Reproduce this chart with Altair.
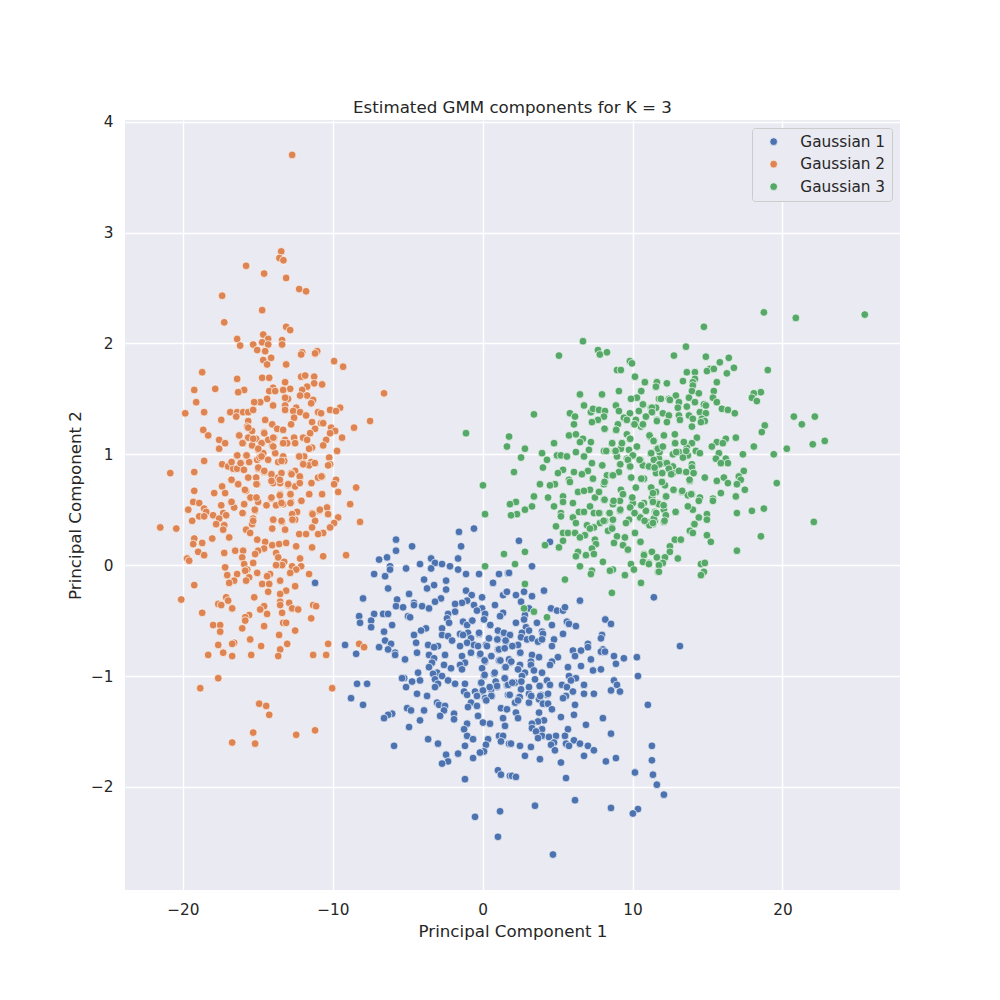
import altair as alt
import pandas as pd

gaussian_1 = [(-11.18,-0.16),(-1.58,0.30),(-0.58,0.33),(-5.78,0.23),(-5.78,0.13),(-4.71,0.17),(-1.44,0.17),(-6.38,0.07),(-6.91,0.05),(-3.44,0.06),(-1.64,0.06),(-6.18,-0.01),(-6.18,-0.04),(-4.18,0.01),(-3.18,0.02),(-2.71,0.01),(-2.18,-0.01),(-5.11,-0.03),(-3.44,-0.03),(-1.64,-0.04),(-1.11,-0.08),(-0.24,-0.08),(-7.24,-0.08),(-6.51,-0.10),(1.09,-0.08),(1.69,-0.07),(-3.91,-0.13),(-2.44,-0.14),(0.69,-0.16),(-6.31,-0.21),(-3.24,-0.18),(-3.71,-0.21),(-2.44,-0.22),(-4.91,-0.26),(-1.11,-0.23),(-0.73,-0.27),(1.36,-0.27),(1.58,-0.24),(-7.98,-0.30),(-5.71,-0.31),(-2.78,-0.30),(-0.04,-0.29),(-3.18,-0.33),(-1.04,-0.32),(-1.38,-0.34),(-1.84,-0.35),(-4.58,-0.34),(-4.58,-0.36),(-5.78,-0.37),(-5.31,-0.38),(-4.04,-0.37),(-3.58,-0.39),(-0.58,-0.36),(0.82,-0.36),(-0.04,-0.39),(-1.84,-0.42),(-0.38,-0.41),(-2.31,-0.44),(0.16,-0.44),(1.36,-0.43),(1.16,-0.46),(-7.24,-0.44),(-6.64,-0.44),(-6.31,-0.44),(-8.24,-0.46),(-4.98,-0.46),(-4.84,-0.47),(-7.44,-0.50),(-8.18,-0.52),(0.09,-0.49),(-0.71,-0.50),(-1.31,-0.51),(-2.38,-0.48),(-2.24,-0.52),(-6.04,-0.54),(-1.04,-0.54),(0.49,-0.54),(-7.44,-0.56),(-3.78,-0.57),(-4.11,-0.59),(-2.71,-0.57),(-6.58,-0.60),(-4.58,-0.63),(1.02,-0.59),(-0.24,-0.62),(-1.51,-0.62),(-2.71,-0.63),(-2.31,-0.64),(-0.98,-0.61),(1.42,-0.62),(0.42,-0.66),(-0.78,-0.66),(-1.31,-0.63),(1.02,-0.67),(-2.04,-0.68),(-6.51,-0.68),(-4.44,-0.70),(1.58,-0.69),(-6.11,-0.71),(-3.64,-0.72),(-2.98,-0.73),(-3.24,-0.74),(-9.18,-0.72),(-1.04,-0.70),(-0.58,-0.72),(0.22,-0.72),(-1.51,-0.73),(1.02,-0.76),(-6.91,-0.74),(-6.31,-0.76),(-8.44,-0.80),(-5.84,-0.79),(-5.84,-0.81),(-4.38,-0.79),(-0.78,-0.79),(-0.18,-0.81),(-3.58,-0.81),(-2.51,-0.81),(0.56,-0.82),(1.09,-0.86),(-3.24,-0.84),(-1.38,-0.82),(-5.18,-0.85),(-1.18,-0.88),(-3.38,-0.88),(0.16,-0.87),(-2.58,-0.90),(-1.51,-0.90),(1.49,-0.92),(-3.58,-0.92),(-2.11,-0.93),(-1.38,-0.94),(-0.04,-0.93),(-4.31,-0.97),(-3.04,-0.97),(-3.31,-0.98),(0.76,-0.98),(0.09,-1.00),(-2.71,-1.00),(-5.24,-1.02),(-5.38,-1.02),(-3.18,-1.03),(-4.18,-1.04),(-4.71,-1.05),(-2.31,-1.04),(-1.84,-1.07),(-1.18,-1.07),(-0.11,-1.06),(1.49,-1.02),(1.62,-1.08),(-8.38,-1.07),(-7.71,-1.07),(-2.98,-1.07),(-5.11,-1.10),(-3.18,-1.10),(0.96,-1.10),(-1.24,-1.14),(-0.51,-1.14),(-0.04,-1.14),(-4.38,-1.16),(0.56,-1.12),(-3.71,-1.18),(-1.04,-1.17),(-0.38,-1.18),(0.62,-1.18),(1.69,-1.17),(-8.78,-1.20),(0.16,-1.20),(-3.04,-1.24),(-0.78,-1.24),(-7.98,-1.26),(-2.91,-1.26),(-2.51,-1.27),(-5.04,-1.29),(-4.78,-1.31),(-3.91,-1.31),(-2.58,-1.31),(-0.98,-1.28),(-0.38,-1.27),(1.22,-1.29),(1.62,-1.30),(-6.04,-1.34),(-6.31,-1.35),(-1.91,-1.34),(-2.84,-1.36),(-0.31,-1.36),(-6.58,-1.38),(-4.18,-1.40),(-1.91,-1.39),(1.36,-1.38),(-1.04,-1.43),(0.02,-1.42),(0.49,-1.43),(1.49,-1.45),(-4.91,-1.46),(-1.24,-1.48),(1.09,-1.54),(1.36,-1.54),(-1.04,-1.54),(-3.64,-1.57),(-0.64,-1.57),(0.36,-1.57),(1.22,-1.59),(-2.98,-1.61),(0.22,-1.62),(-5.91,-1.63),(-1.18,-1.63),(1.76,-1.61),(0.09,-1.68),(-0.18,-1.69),(-1.64,-1.70),(-2.44,-1.71),(-0.64,-1.74),(-2.31,-1.77),(-2.71,-1.79),(1.02,-1.85),(1.22,-1.89),(1.82,-1.90),(-1.18,-1.93),(1.16,-2.22),(-0.51,-2.27),(1.02,-2.45),
(2.42,0.22),(4.49,0.21),(3.29,-0.01),(1.76,-0.07),(2.76,-0.24),(4.09,-0.23),(2.22,-0.27),(3.29,-0.28),(1.62,-0.24),(6.49,-0.32),(11.42,-0.29),(2.56,-0.33),(3.09,-0.39),(4.56,-0.39),(4.96,-0.41),(5.36,-0.41),(5.49,-0.38),(2.82,-0.45),(8.18,-0.49),(8.56,-0.53),(5.62,-0.51),(5.76,-0.53),(2.76,-0.49),(2.22,-0.52),(3.62,-0.52),(4.62,-0.54),(6.22,-0.55),(2.89,-0.56),(3.09,-0.59),(2.62,-0.61),(3.96,-0.60),(4.02,-0.62),(5.36,-0.62),(7.96,-0.63),(7.89,-0.66),(1.42,-0.62),(1.82,-0.63),(2.56,-0.65),(2.96,-0.67),(3.29,-0.66),(3.69,-0.69),(3.96,-0.67),(4.76,-0.67),(1.56,-0.69),(7.02,-0.71),(13.16,-0.73),(4.62,-0.73),(1.96,-0.73),(7.02,-0.74),(2.36,-0.72),(6.02,-0.77),(6.56,-0.77),(8.02,-0.76),(7.89,-0.78),(8.16,-0.78),(2.49,-0.79),(3.29,-0.81),(6.16,-0.82),(8.76,-0.82),(9.42,-0.84),(10.29,-0.83),(3.76,-0.83),(5.02,-0.83),(7.22,-0.85),(4.62,-0.87),(3.22,-0.87),(4.49,-0.90),(8.89,-0.89),(1.82,-0.88),(2.49,-0.90),(3.22,-0.90),(5.69,-0.92),(6.56,-0.91),(7.36,-0.95),(7.89,-0.94),(2.36,-0.94),(3.42,-0.95),(3.96,-0.97),(2.82,-0.97),(5.76,-1.00),(2.62,-1.00),(6.22,-1.02),(10.36,-1.00),(5.89,-1.04),(3.49,-1.03),(4.29,-1.04),(2.56,-1.05),(8.76,-1.04),(2.16,-1.06),(1.69,-1.08),(4.49,-1.08),(3.82,-1.09),(5.29,-1.08),(6.76,-1.08),(8.96,-1.08),(3.09,-1.10),(5.62,-1.10),(2.56,-1.12),(8.56,-1.13),(9.16,-1.14),(6.02,-1.14),(6.76,-1.16),(7.42,-1.16),(3.09,-1.16),(4.29,-1.17),(3.89,-1.17),(1.82,-1.17),(2.42,-1.19),(5.56,-1.18),(5.36,-1.20),(3.76,-1.21),(2.16,-1.24),(3.09,-1.24),(4.02,-1.25),(4.36,-1.25),(6.16,-1.26),(11.02,-1.26),(1.62,-1.30),(4.62,-1.30),(6.09,-1.35),(2.22,-1.33),(3.76,-1.33),(5.22,-1.37),(8.02,-1.38),(2.36,-1.38),(4.09,-1.40),(3.69,-1.41),(3.29,-1.43),(6.89,-1.44),(3.29,-1.47),(3.96,-1.48),(5.69,-1.48),(3.56,-1.50),(8.56,-1.52),(4.89,-1.54),(5.49,-1.54),(3.96,-1.54),(4.42,-1.55),(3.69,-1.56),(6.09,-1.58),(4.76,-1.60),(5.56,-1.61),(1.89,-1.61),(6.49,-1.61),(4.56,-1.62),(7.02,-1.63),(11.29,-1.63),(2.49,-1.63),(5.76,-1.63),(3.22,-1.64),(4.82,-1.67),(7.42,-1.67),(2.82,-1.72),(6.76,-1.72),(3.82,-1.75),(8.89,-1.74),(11.29,-1.76),(5.22,-1.78),(8.22,-1.77),(10.16,-1.87),(11.36,-1.89),(5.56,-1.92),(1.96,-1.90),(2.22,-1.91),(11.62,-1.98),(12.09,-2.07),(6.16,-2.12),(3.49,-2.17),(8.56,-2.19),(10.36,-2.20),(10.02,-2.24),(4.69,-2.61),
(-0.69,-0.50),(0.51,-0.54),(-0.24,-0.61),(1.02,-0.59),(1.42,-0.61),(1.82,-0.63),(0.42,-0.66),(0.98,-0.67),(1.53,-0.68),(1.98,-0.73),(0.29,-0.73),(-0.31,-0.73),(1.09,-0.76),(1.47,-0.75),(2.51,-0.79),(-0.16,-0.80),(0.58,-0.82),(1.18,-0.86),(1.76,-0.85),(1.91,-0.87),(0.13,-0.86),(1.53,-0.92),(2.36,-0.94),(0.80,-0.97),(0.13,-0.99),(1.47,-1.02),(0.87,-1.05),(-0.09,-1.06),(2.58,-1.05),(1.98,-1.06),(0.47,-1.10),(0.96,-1.09),(0.02,-1.13),(3.09,-1.10),(2.47,-1.19),(1.80,-1.17),(0.58,-1.18),(-0.38,-1.18),(3.84,-1.18),(3.24,-1.18),(0.24,-1.22),(2.36,-1.22),(4.36,-1.16),(3.80,-1.09)]

gaussian_2 = [(-12.71,3.70),(-13.44,2.83),(-13.56,2.77),(-13.29,2.75),(-15.78,2.70),(-14.58,2.63),(-13.11,2.59),(-12.24,2.49),(-11.78,2.47),(-17.38,2.43),(-14.71,2.30),(-17.24,2.19),(-13.11,2.15),(-12.84,2.12),(-14.64,2.08),(-14.31,2.04),(-16.38,2.04),(-13.38,2.03),(-13.38,1.99),(-14.71,2.01),(-16.18,1.98),(-15.31,1.99),(-14.31,1.99),(-15.04,1.94),(-14.51,1.93),(-12.04,1.92),(-12.11,1.90),(-11.04,1.93),(-11.18,1.91),(-9.91,1.84),(-9.31,1.79),(-14.64,1.85),(-14.11,1.87),(-14.38,1.81),(-13.11,1.81),(-18.71,1.74),(-16.38,1.68),(-14.71,1.69),(-14.24,1.69),(-12.11,1.70),(-11.84,1.71),(-11.24,1.70),(-11.24,1.64),(-10.71,1.63),(-13.18,1.65),(-11.71,1.61),(-13.98,1.60),(-12.84,1.59),(-13.31,1.58),(-14.24,1.57),(-13.84,1.57),(-12.04,1.58),(-19.24,1.58),(-17.84,1.59),(-15.91,1.58),(-16.31,1.56),(-6.58,1.55),(-19.11,1.47),(-11.71,1.53),(-12.18,1.53),(-12.98,1.50),(-13.18,1.51),(-14.38,1.50),(-14.84,1.47),(-15.24,1.47),(-11.31,1.49),(-11.44,1.46),(-13.98,1.44),(-13.18,1.44),(-19.84,1.37),(-18.58,1.38),(-16.84,1.38),(-16.38,1.38),(-15.98,1.38),(-15.64,1.38),(-15.31,1.40),(-13.18,1.40),(-12.44,1.42),(-12.64,1.39),(-12.18,1.38),(-10.98,1.38),(-10.78,1.37),(-10.18,1.40),(-9.51,1.42),(-9.78,1.39),(-11.78,1.35),(-12.58,1.33),(-16.44,1.34),(-17.44,1.31),(-14.51,1.31),(-15.64,1.30),(-7.51,1.30),(-11.38,1.29),(-10.78,1.28),(-10.64,1.28),(-12.78,1.27),(-14.04,1.27),(-15.71,1.25),(-8.58,1.24),(-10.11,1.24),(-11.18,1.23),(-13.71,1.23),(-13.31,1.22),(-18.64,1.22),(-15.38,1.21),(-9.84,1.21),(-14.58,1.20),(-10.18,1.19),(-11.51,1.19),(-18.31,1.17),(-16.24,1.17),(-15.64,1.15),(-15.11,1.14),(-13.91,1.15),(-12.58,1.15),(-11.98,1.15),(-9.38,1.15),(-10.44,1.13),(-11.71,1.13),(-17.58,1.13),(-13.18,1.13),
(-17.18,1.10),(-15.98,1.10),(-15.38,1.08),(-14.71,1.10),(-14.04,1.08),(-13.31,1.10),(-13.04,1.10),(-12.51,1.10),(-11.38,1.06),(-11.58,1.05),(-10.64,1.08),(-17.58,1.05),(-14.98,1.04),(-9.71,1.03),(-13.84,1.01),(-16.38,0.99),(-15.78,0.99),(-14.71,0.99),(-13.31,0.98),(-12.24,0.98),(-11.91,0.98),(-10.24,0.97),(-18.58,0.94),(-16.78,0.93),(-16.11,0.92),(-15.58,0.93),(-15.04,0.95),(-14.31,0.95),(-13.64,0.93),(-13.24,0.94),(-11.98,0.92),(-11.18,0.92),(-11.44,0.93),(-17.38,0.91),(-16.98,0.89),(-11.58,0.90),(-10.18,0.91),(-10.31,0.90),(-16.64,0.87),(-15.91,0.86),(-16.38,0.87),(-14.98,0.87),(-14.58,0.84),(-20.84,0.83),(-19.24,0.84),(-13.44,0.83),(-12.51,0.85),(-12.78,0.83),(-14.11,0.82),(-15.64,0.79),(-15.11,0.79),(-12.18,0.79),(-10.98,0.79),(-10.71,0.80),(-13.64,0.79),(-16.78,0.77),(-9.78,0.77),(-9.91,0.73),(-12.24,0.74),(-11.44,0.74),(-13.98,0.74),(-13.51,0.74),(-15.04,0.73),(-16.31,0.73),(-12.98,0.72),(-12.51,0.71),(-17.38,0.71),(-8.44,0.70),(-15.78,0.67),(-19.24,0.67),(-9.64,0.66),(-17.91,0.65),(-17.18,0.65),(-13.51,0.64),(-12.84,0.64),(-11.58,0.64),(-10.71,0.64),(-15.51,0.61),(-14.11,0.60),(-12.11,0.58),(-19.31,0.57),(-16.78,0.57),(-14.98,0.57),(-13.44,0.57),(-12.78,0.57),(-8.84,0.55),(-18.91,0.56),(-15.91,0.55),(-17.44,0.54),(-14.44,0.54),(-13.78,0.54),(-13.31,0.55),(-16.58,0.52),(-10.38,0.52),(-15.18,0.49),(-19.64,0.50),(-18.58,0.51),(-18.44,0.48),(-10.91,0.49),(-12.38,0.48),(-15.98,0.47),(-17.31,0.47),(-11.38,0.47),(-10.31,0.46),(-17.98,0.45),(-17.11,0.45),(-18.91,0.44),(-12.71,0.46),(-9.64,0.43),(-15.31,0.42),(-13.98,0.41),(-19.38,0.40),(-17.58,0.42),(-18.58,0.44),(-13.38,0.39),(-12.51,0.41),(-11.18,0.40),(-8.18,0.39),(-15.38,0.37),(-9.91,0.38),(-17.78,0.37),(-17.24,0.36),(-21.51,0.34),(-20.44,0.33),(-11.38,0.34),(-10.18,0.34),(-14.04,0.33),(-13.18,0.32),(-15.78,0.32),(-17.31,0.32),(-15.51,0.29),(-10.64,0.29),(-10.98,0.28),(-12.24,0.28),(-11.78,0.28),(-16.91,0.25),(-18.04,0.24),(-19.24,0.24),(-15.04,0.23),(-14.51,0.21),(-18.71,0.20),(-19.31,0.19),(-14.04,0.18),(-13.58,0.19),(-13.11,0.20),(-12.44,0.17),(-11.38,0.16),(-14.58,0.15),(-16.51,0.13),(-15.98,0.13),(-14.98,0.13),(-18.98,0.12),(-17.24,0.11),(-15.18,0.10),(-18.58,0.09),(-13.78,0.11),(-13.64,0.07),(-10.64,0.08),(-9.11,0.09),(-16.04,0.07),(-12.18,0.06),(-19.71,0.06),(-19.58,0.04),(-13.24,0.03),(-15.91,0.01),(-15.31,0.02),(-13.38,0.00),(-13.78,0.00),(-12.11,-0.01),(-17.18,-0.02),(-12.71,-0.01),(-15.71,-0.04),(-12.44,-0.04),(-15.84,-0.05),(-12.84,-0.07),(-15.04,-0.07),(-14.18,-0.08),(-16.38,-0.08),(-17.04,-0.09),(-11.58,-0.08),(-14.38,-0.10),(-15.58,-0.11),(-13.51,-0.14),(-15.78,-0.14),(-16.58,-0.14),(-16.91,-0.16),(-14.71,-0.17),(-14.24,-0.17),(-19.24,-0.18),(-12.51,-0.19),(-14.31,-0.24),(-13.11,-0.23),(-13.51,-0.26),(-20.11,-0.31),(-15.24,-0.29),(-17.11,-0.29),(-16.98,-0.32),(-13.51,-0.33),(-12.91,-0.34),(-17.64,-0.35),(-17.44,-0.36),(-11.31,-0.36),(-11.11,-0.37),(-13.51,-0.36),(-14.58,-0.37),(-16.71,-0.39),(-12.71,-0.39),(-12.31,-0.40),(-14.84,-0.40),(-18.71,-0.43),(-14.38,-0.44),(-13.38,-0.43),(-15.58,-0.45),(-15.84,-0.47),(-11.44,-0.48),(-15.84,-0.50),(-13.31,-0.52),(-13.11,-0.52),(-17.98,-0.54),(-17.51,-0.54),(-14.58,-0.55),(-16.04,-0.57),(-12.51,-0.59),(-17.51,-0.60),(-13.58,-0.63),(-15.51,-0.67),(-10.31,-0.71),(-16.58,-0.70),(-16.71,-0.71),(-13.04,-0.71),(-8.24,-0.71),(-7.91,-0.74),(-17.64,-0.72),(-14.78,-0.73),(-13.51,-0.76),(-17.31,-0.79),(-18.31,-0.81),(-16.71,-0.82),(-15.44,-0.81),(-13.64,-0.82),(-11.31,-0.81),(-10.44,-0.81),(-17.64,-1.02),(-18.84,-1.11),(-10.04,-1.11),(-14.91,-1.25),(-14.44,-1.27),(-14.24,-1.35),(-15.31,-1.51),(-12.44,-1.53),(-11.18,-1.49),(-16.71,-1.60),(-15.18,-1.61),(-14.31,1.13),(-14.64,1.01),(-14.88,0.97),
(-15.64,1.24),(-14.57,1.19),(-16.24,1.17),(-15.31,1.14),(-14.75,1.10),(-13.97,1.15),(-13.31,1.10),(-14.97,1.05),(-13.97,1.07),(-16.02,1.10),(-16.37,0.99),(-15.75,0.99),(-14.75,0.98),(-14.31,0.95),(-13.42,0.94),(-12.24,0.98),(-16.75,0.93),(-16.15,0.92),(-11.97,0.91),(-11.2,0.92),(-15.93,0.86),(-14.97,0.88),(-14.57,0.85),(-14.09,0.82),(-13.42,0.83),(-16.75,0.77),(-15.64,0.79),(-13.53,0.77),(-12.75,0.82),(-12.2,0.80),(-12.2,0.74),(-16.31,0.73),(-15.09,0.73),(-14.09,0.76),(-12.97,0.73),(-11.42,0.74),(-10.75,0.80),(-13.53,0.63),(-12.82,0.64),(-15.86,0.68),(-15.49,0.61),(-14.09,0.61),(-15.09,0.61),(-11.57,0.64),(-16.75,0.57),(-14.42,0.54),(-15.2,0.50),(-13.42,0.56),(-12.82,0.56),(-12.09,0.58),(-13.97,0.41),(-13.42,0.40),(-12.69,0.41),(-16.02,0.47),(-15.31,0.40),(-11.35,0.46),(-10.86,0.50)]

gaussian_3 = [(6.69,2.02),(5.09,1.89),(7.69,1.94),(7.82,1.90),(8.29,1.92),(9.82,1.84),(9.96,1.82),(8.96,1.76),(9.22,1.76),(10.16,1.70),(10.82,1.65),(11.62,1.65),(11.56,1.61),(10.56,1.57),(9.09,1.57),(6.49,1.54),(7.96,1.54),(10.29,1.51),(9.89,1.50),(6.76,1.44),(11.76,1.50),(10.69,1.45),(8.89,1.44),(9.09,1.39),(7.22,1.38),(7.36,1.41),(7.76,1.40),(8.16,1.39),(10.42,1.39),(11.22,1.42),(11.56,1.42),(11.29,1.38),(5.82,1.37),(3.42,1.36),(9.82,1.37),(6.16,1.34),(8.09,1.34),(10.89,1.34),(7.69,1.31),(11.62,1.31),(9.42,1.33),(9.62,1.31),(10.22,1.31),(7.29,1.29),(6.09,1.27),(10.09,1.27),(9.02,1.27),(10.56,1.25),(10.69,1.27),(8.16,1.23),(8.89,1.22),(-1.11,1.19),(9.62,1.18),(5.76,1.17),(6.22,1.18),(1.76,1.16),(6.69,1.14),(9.82,1.14),(11.16,1.16),(11.42,1.12),(6.49,1.11),(7.22,1.11),(8.62,1.10),(4.76,1.10),(9.29,1.10),(1.62,1.07),(10.29,1.07),(2.82,1.05),(11.62,1.05),(6.22,1.02),(8.09,1.03),(8.29,1.03),(8.82,1.03),(9.22,1.05),(9.76,1.04),(3.96,1.01),(11.22,1.01),(7.09,1.04),(4.96,0.99),(5.22,0.99),(5.62,0.98),(6.76,0.98),(2.56,0.97),(10.02,0.99),(8.96,0.98),(4.29,0.95),(10.49,0.95),(11.42,0.95),(9.62,0.96),(11.76,0.96),(7.29,0.92),(9.16,0.91),(7.96,0.90),(9.82,0.89),(10.69,0.90),(11.09,0.89),(4.02,0.88),(5.36,0.86),(5.02,0.83),(2.09,0.84),(6.09,0.84),(7.02,0.85),(9.09,0.84),(6.62,0.82),(8.29,0.81),(8.62,0.81),(11.62,0.83),(7.36,0.78),(9.89,0.79),(5.76,0.77),(5.82,0.75),(10.76,0.78),(8.16,0.75),(3.82,0.73),(4.82,0.73),(4.49,0.72),(0.02,0.72),(8.09,0.73),(10.22,0.70),(11.22,0.70),(7.16,0.68),(9.22,0.68),(6.36,0.66),(6.76,0.67),(7.76,0.66),(9.36,0.64),(3.42,0.62),(5.36,0.62),(4.36,0.61),(7.49,0.61),(9.96,0.61),(11.29,0.61),(8.09,0.59),(2.22,0.57),(5.36,0.57),(11.36,0.57),(8.69,0.55),(1.82,0.55),(6.02,0.56),(9.16,0.58),(10.02,0.56),(11.69,0.56),(3.29,0.53),(4.76,0.53),(7.16,0.53),(10.56,0.54),(2.82,0.50),(9.16,0.49),(6.42,0.48),(6.76,0.48),(7.82,0.47),(8.42,0.47),(7.42,0.47),(5.22,0.47),(10.16,0.47),(10.89,0.49),(11.56,0.47),(2.29,0.46),(1.89,0.45),(0.16,0.46),(5.22,0.44),(6.02,0.43),(10.49,0.43),(9.76,0.41),(8.69,0.41),(8.16,0.40),(7.82,0.38),(6.22,0.38),(11.49,0.40),(9.56,0.38),(11.22,0.37),(6.96,0.36),(4.89,0.35),(8.62,0.34),(7.42,0.34),(7.16,0.33),(8.36,0.31),(10.16,0.29),(5.36,0.29),(5.69,0.29),(6.16,0.29),(6.82,0.27),(6.49,0.25),(8.96,0.26),(9.49,0.25),(7.49,0.23),(5.36,0.22),(10.49,0.21),(8.76,0.20),(7.56,0.19),(4.16,0.18),(9.36,0.18),(5.09,0.16),(7.29,0.15),(9.69,0.14),(11.29,0.12),(2.82,0.12),(6.36,0.12),(1.42,0.10),(10.76,0.10),(6.89,0.09),(7.42,0.10),(6.22,0.08),(11.62,0.07),(8.02,0.03),(10.76,0.03),(11.09,0.02),(9.89,0.01),(2.16,0.01),(0.16,-0.01),(6.49,-0.01),(10.09,-0.04),(7.29,-0.05),(8.69,-0.04),(8.49,-0.05),(7.22,-0.08),(11.69,-0.06),(9.49,-0.09),(5.49,-0.13),(10.56,-0.16),(2.82,-0.17),(8.62,-0.25),(2.76,-0.39),(3.42,-0.42),(4.29,-0.47),
(18.76,2.28),(20.89,2.23),(25.49,2.26),(14.76,2.15),(13.56,1.97),(12.76,1.89),(14.89,1.88),(16.42,1.87),(15.82,1.83),(19.02,1.76),(16.76,1.78),(15.16,1.77),(14.96,1.75),(15.42,1.77),(13.62,1.74),(14.16,1.74),(16.29,1.73),(14.16,1.68),(13.36,1.66),(15.62,1.65),(10.82,1.65),(11.62,1.65),(12.29,1.64),(11.56,1.61),(14.02,1.65),(14.02,1.62),(13.96,1.57),(10.58,1.57),(15.42,1.57),(18.56,1.56),(18.09,1.55),(14.42,1.55),(17.96,1.51),(18.29,1.48),(12.89,1.53),(11.89,1.50),(12.42,1.50),(13.76,1.51),(12.49,1.49),(15.36,1.51),(14.16,1.47),(13.09,1.47),(15.62,1.47),(10.69,1.45),(14.76,1.45),(14.89,1.44),(13.62,1.43),(13.02,1.42),(11.56,1.42),(11.29,1.42),(15.96,1.41),(16.36,1.40),(14.49,1.38),(12.02,1.37),(11.29,1.38),(16.82,1.37),(12.42,1.35),(13.09,1.35),(13.76,1.35),(14.89,1.37),(10.89,1.34),(20.76,1.34),(22.16,1.34),(14.02,1.32),(14.62,1.32),(14.82,1.30),(13.16,1.31),(11.62,1.30),(12.29,1.29),(21.29,1.27),(14.56,1.29),(13.96,1.25),(10.69,1.27),(18.82,1.26),(18.62,1.20),(12.82,1.18),(12.09,1.17),(11.16,1.16),(11.42,1.12),(14.29,1.15),(16.22,1.14),(16.89,1.15),(22.82,1.12),(15.62,1.11),(16.02,1.10),(13.42,1.11),(12.82,1.10),(13.96,1.10),(22.02,1.09),(18.09,1.07),(20.29,1.05),(15.29,1.07),(12.02,1.07),(11.69,1.05),(13.62,1.06),(14.22,1.03),(13.09,1.02),(13.56,1.02),(15.76,1.01),(11.8,1.02),(12.69,1.00),(14.49,1.01),(11.22,1.01),(19.42,1.00),(17.36,1.00),(13.69,0.99),(13.36,0.97),(15.56,0.96),(16.22,0.96),(11.42,0.95),(10.53,0.95),(16.36,0.92),(15.89,0.92),(12.16,0.92),(11.76,0.91),(13.96,0.91),(10.69,0.90),(11.09,0.89),(12.69,0.89),(13.96,0.88),(12.42,0.87),(17.42,0.85),(11.56,0.83),(13.09,0.85),(13.56,0.84),(11.96,0.83),(14.09,0.83),(12.69,0.83),(17.09,0.80),(14.82,0.79),(16.09,0.79),(10.76,0.78),(13.82,0.76),(15.62,0.76),(17.22,0.77),(19.62,0.74),(11.96,0.75),(16.36,0.74),(16.96,0.73),(12.16,0.72),(11.22,0.70),(17.49,0.68),(12.76,0.68),(13.29,0.66),(11.56,0.66),(15.89,0.65),(13.96,0.64),(13.69,0.63),(12.22,0.62),(16.89,0.62),(14.49,0.61),(11.29,0.61),(15.36,0.60),(14.42,0.58),(15.36,0.58),(11.36,0.57),(10.76,0.56),(11.76,0.55),(10.58,0.54),(12.09,0.54),(13.69,0.53),(14.02,0.50),(18.76,0.51),(17.96,0.49),(12.09,0.50),(12.89,0.48),(16.96,0.47),(10.89,0.49),(11.49,0.48),(11.56,0.47),(12.22,0.45),(14.96,0.46),(14.96,0.41),(14.42,0.43),(10.51,0.43),(11.42,0.42),(12.09,0.39),(22.09,0.39),(10.96,0.39),(11.36,0.37),(11.13,0.36),(14.09,0.37),(13.82,0.31),(14.02,0.29),(14.96,0.27),(18.56,0.26),(15.22,0.21),(12.82,0.23),(13.22,0.23),(10.53,0.21),(12.49,0.17),(16.96,0.13),(11.29,0.12),(12.49,0.12),(10.76,0.09),(11.62,0.07),(12.16,0.07),(13.02,0.06),(10.69,0.03),(12.02,0.02),(11.09,0.01),(11.76,0.00),(14.56,0.01),(14.82,0.02),(14.76,-0.06),(11.76,-0.06),(14.56,-0.09),
(8.13,1.23),(8.91,1.22),(10.13,1.27),(10.69,1.27),(11.13,1.17),(9.84,1.14),(8.64,1.10),(9.29,1.10),(11.4,1.12),(12.84,1.10),(13.42,1.11),(10.29,1.07),(8.24,1.03),(8.87,1.03),(11.69,1.05),(12.02,1.07),(12.91,1.02),(13.58,1.03),(10.02,0.99),(11.24,1.01),(9.69,0.95),(10.47,0.95),(9.18,0.91),(9.84,0.89),(11.8,0.91),(12.29,0.92),(11.09,0.89),(7.98,0.90),(12.42,0.87),(9.09,0.84),(11.47,0.88),(13.09,0.85),(11.98,0.83),(13.58,0.84),(8.69,0.81),(12.58,0.82),(14.07,0.83),(9.91,0.79),(10.58,0.78),(8.13,0.75),(11.96,0.75),(13.8,0.77),(11.24,0.70),(7.76,0.66),(9.36,0.64),(11.36,0.65),(12.73,0.68),(13.31,0.67),(8.13,0.59),(9.98,0.61),(12.24,0.62),(8.73,0.58),(13.91,0.64),(10.58,0.54),(11.36,0.57),(12.07,0.54),(13.69,0.53),(9.18,0.50),(9.84,0.52),(8.47,0.47),(11.58,0.47),(7.76,0.47),(10.13,0.47),(12.87,0.48),(8.07,0.40),(8.64,0.33),(10.8,0.40),(11.36,0.38),(12.13,0.40),(14.13,0.37)]

series_names = ["Gaussian 1", "Gaussian 2", "Gaussian 3"]
series_colors = ["#4c72b0", "#dd8452", "#55a868"]
x_ticks = [-20, -10, 0, 10, 20]
y_ticks = [-2, -1, 0, 1, 2, 3, 4]

rows = []
for name, pts in zip(series_names, [gaussian_1, gaussian_2, gaussian_3]):
    rows += [{"pc1": a, "pc2": b, "component": name} for a, b in pts]
df = pd.DataFrame(rows)

ink = "#262626"
font = "DejaVu Sans"

chart = (
    alt.Chart(df)
    .mark_point(filled=True, opacity=1, size=60, stroke="white", strokeWidth=0.67)
    .encode(
        x=alt.X(
            "pc1:Q",
            scale=alt.Scale(domain=[-23.86, 27.84], nice=False, zero=False),
            axis=alt.Axis(values=x_ticks, title="Principal Component 1", format="d"),
        ),
        y=alt.Y(
            "pc2:Q",
            scale=alt.Scale(domain=[-2.93, 4.015], nice=False, zero=False),
            axis=alt.Axis(values=y_ticks, title="Principal Component 2", format="d"),
        ),
        color=alt.Color(
            "component:N",
            scale=alt.Scale(domain=series_names, range=series_colors),
            legend=alt.Legend(
                title=None,
                orient="none",
                legendX=627,
                legendY=8,
                fillColor="#eaeaf2",
                strokeColor="#cccccc",
                cornerRadius=3,
                padding=6,
                rowPadding=6.5,
                labelFontSize=15.3,
                labelColor=ink,
                labelFont=font,
                labelOffset=19,
                symbolType="circle",
                symbolSize=60,
                symbolStrokeColor="white",
                symbolStrokeWidth=0.67,
                symbolOpacity=1,
                symbolOffset=8,
            ),
        ),
    )
    .properties(
        width=775,
        height=770,
        title=alt.TitleParams(
            "Estimated GMM components for K = 3",
            fontSize=16.67,
            fontWeight="normal",
            color=ink,
            font=font,
            offset=-2,
        ),
        autosize=alt.AutoSizeParams(type="none"),
        padding={"left": 117, "top": 112, "right": 60, "bottom": 60},
        background="white",
    )
    .configure_view(fill="#eaeaf2", stroke=None)
    .configure_axis(
        domain=False,
        ticks=False,
        grid=True,
        gridColor="white",
        gridWidth=1.39,
        gridOpacity=1,
        labelColor=ink,
        labelFont=font,
        labelFontSize=15.3,
        labelPadding=12,
        titleColor=ink,
        titleFont=font,
        titleFontSize=16.67,
        titleFontWeight="normal",
        titlePadding=6,
    )
)

chart.save("out.html", embed_options={"renderer": "svg", "actions": False})
